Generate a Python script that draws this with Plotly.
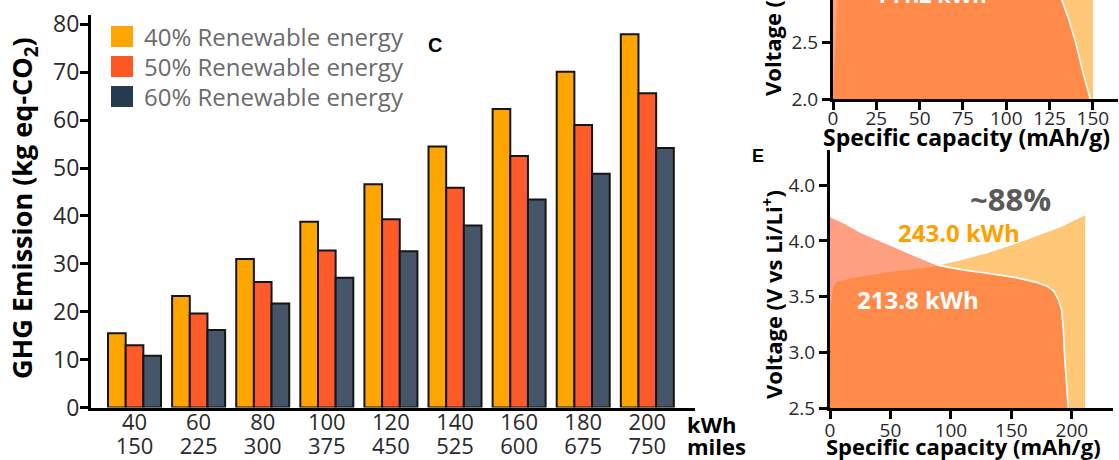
import plotly.graph_objects as go

W, H = 1119, 460

# ---------------- data ----------------
kwh = ["40", "60", "80", "100", "120", "140", "160", "180", "200"]
miles = ["150", "225", "300", "375", "450", "525", "600", "675", "750"]
series_names = ["40% Renewable energy", "50% Renewable energy", "60% Renewable energy"]
ghg_40 = [15.5, 23.3, 31.0, 38.8, 46.6, 54.5, 62.3, 70.1, 77.9]
ghg_50 = [13.0, 19.6, 26.2, 32.8, 39.3, 45.9, 52.5, 59.0, 65.6]
ghg_60 = [10.8, 16.2, 21.7, 27.1, 32.6, 38.0, 43.4, 48.8, 54.2]
bar_ticks = [0, 10, 20, 30, 40, 50, 60, 70, 80]

# panel D (top right, cropped)
d_charge_cap = [0, 0.8, 1.5, 2.5, 5, 20, 80, 140, 150]
d_charge_v = [2.0, 2.3, 2.5, 2.87, 3.2, 3.4, 3.6, 4.0, 4.2]
d_dis_cap = [0, 5, 20, 60, 100, 120, 128, 132, 136, 140, 144, 148.5]
d_dis_v = [4.2, 4.0, 3.85, 3.7, 3.55, 3.35, 3.1, 2.87, 2.7, 2.5, 2.25, 2.0]
d_xticks = [0, 25, 50, 75, 100, 125, 150]
d_yticks = [2.0, 2.5]
d_ytext = ["2.0", "2.5"]
d_label = "141.2 kWh"

# panel E
e_charge_cap = [0, 1, 2.5, 5, 20, 50, 80, 90, 110, 130, 150, 170, 190, 211]
e_charge_v = [3.0, 3.45, 3.58, 3.63, 3.67, 3.72, 3.76, 3.78, 3.83, 3.89, 3.96, 4.04, 4.12, 4.23]
e_dis_cap = [0, 12, 25, 40, 52, 72, 90, 110, 130, 154, 170, 180, 185, 189, 191.5, 193, 194, 196, 197]
e_dis_v = [4.22, 4.16, 4.08, 4.01, 3.95, 3.86, 3.78, 3.74, 3.71, 3.67, 3.63, 3.59, 3.55, 3.47, 3.38, 3.2, 2.96, 2.7, 2.5]
e_xticks = [0, 50, 100, 150, 200]
e_yticks = [2.5, 3.0, 3.5, 4.0, 4.5]
e_ytext = ["2.5", "3.0", "3.5", "4.0", "4.0"]
e_pct = "~88%"
e_charge_label = "243.0 kWh"
e_dis_label = "213.8 kWh"

# ---------------- styles ----------------
bar_colors = ["#FFA500", "#FF5A2A", "#45566A"]
legend_colors = ["#FFA500", "#FF5722", "#263B50"]
charge_fill = "#FFC878"
dis_fill = "rgba(255,97,43,0.6)"
TICKFONT = "Open Sans"
BOLD = "Open Sans"


def px(x):
    return x / W


def py(y):
    return 1 - y / H


fig = go.Figure()

for name, vals, col in zip(series_names, [ghg_40, ghg_50, ghg_60], bar_colors):
    fig.add_trace(go.Bar(
        x=kwh, y=vals, name=name, xaxis="x", yaxis="y",
        marker=dict(color=col, line=dict(color="#151515", width=2)),
        showlegend=False,
    ))

# dummy trace for the miles axis
fig.add_trace(go.Scatter(x=[], y=[], xaxis="x4", yaxis="y", showlegend=False))

# panel D
fig.add_trace(go.Scatter(x=d_charge_cap, y=d_charge_v, xaxis="x2", yaxis="y2",
                         mode="lines", line=dict(width=0, color=charge_fill),
                         fill="tozeroy", fillcolor=charge_fill, showlegend=False))
fig.add_trace(go.Scatter(x=d_dis_cap, y=d_dis_v, xaxis="x2", yaxis="y2",
                         mode="lines", line=dict(width=1.6, color="white"),
                         fill="tozeroy", fillcolor=dis_fill, showlegend=False))
# panel E
fig.add_trace(go.Scatter(x=e_charge_cap, y=e_charge_v, xaxis="x3", yaxis="y3",
                         mode="lines", line=dict(width=0, color=charge_fill),
                         fill="tozeroy", fillcolor=charge_fill, showlegend=False))
fig.add_trace(go.Scatter(x=e_dis_cap, y=e_dis_v, xaxis="x3", yaxis="y3",
                         mode="lines", line=dict(width=1.6, color="white"),
                         fill="tozeroy", fillcolor=dis_fill, showlegend=False))

axis_common = dict(showgrid=False, zeroline=False, showline=True, linecolor="black",
                   linewidth=3, ticks="outside", tickcolor="black", tickwidth=2.5,
                   ticklen=8, automargin=False)

x_rng = [-0.679, 8.744]
fig.update_layout(
    width=W, height=H, autosize=False,
    margin=dict(l=0, r=0, t=0, b=0, pad=0),
    paper_bgcolor="white", plot_bgcolor="rgba(0,0,0,0)",
    barmode="group", bargap=0.173, bargroupgap=0,
    xaxis=dict(domain=[px(91), px(695)], anchor="y", type="category",
               categoryorder="array", categoryarray=kwh, range=x_rng,
               showgrid=False, zeroline=False, showline=True, linecolor="black",
               linewidth=3, ticks="", ticklabelstandoff=-7, automargin=False,
               tickfont=dict(family=TICKFONT, size=22, color="#2a2a2a")),
    xaxis4=dict(overlaying="x", anchor="y", side="bottom", type="linear", range=x_rng,
                tickmode="array", tickvals=list(range(len(miles))), ticktext=miles,
                showgrid=False, zeroline=False, showline=False, ticks="",
                ticklabelstandoff=23, automargin=False,
                tickfont=dict(family=TICKFONT, size=22, color="#2a2a2a")),
    yaxis=dict(domain=[py(407.5), py(15)], anchor="x", range=[0, 81.94],
               tickmode="array", tickvals=bar_ticks, ticklabelstandoff=-4,
               tickfont=dict(family=TICKFONT, size=23, color="#2a2a2a"),
               **axis_common),
    xaxis2=dict(domain=[px(833), px(1118)], anchor="y2", range=[0, 164.5],
                tickmode="array", tickvals=d_xticks, ticklabelstandoff=-8,
                tickfont=dict(family=TICKFONT, size=19, color="#2a2a2a"),
                **axis_common),
    yaxis2=dict(domain=[py(99.3), 1], anchor="x2", range=[2.0, 2.8665],
                tickmode="array", tickvals=d_yticks, ticktext=d_ytext,
                tickfont=dict(family=TICKFONT, size=19, color="#2a2a2a"),
                **axis_common),
    xaxis3=dict(domain=[px(830), px(1113)], anchor="y3", range=[0, 234],
                tickmode="array", tickvals=e_xticks, ticklabelstandoff=-5,
                tickfont=dict(family=TICKFONT, size=19, color="#2a2a2a"),
                **axis_common),
    yaxis3=dict(domain=[py(408), py(150)], anchor="x3", range=[2.5, 4.816],
                tickmode="array", tickvals=e_yticks, ticktext=e_ytext,
                tickfont=dict(family=TICKFONT, size=19, color="#2a2a2a"),
                **axis_common),
)

shapes = []
ann = []
# manual legend
for i, (name, col) in enumerate(zip(series_names, legend_colors)):
    top = 26 + 30 * i
    shapes.append(dict(type="rect", xref="paper", yref="paper",
                       x0=px(111), x1=px(133), y0=py(top + 21), y1=py(top),
                       fillcolor=col, line=dict(width=0)))
    ann.append(dict(text=name, xref="paper", yref="paper", x=px(142), y=py(top + 10.5),
                    xanchor="left", yanchor="middle", showarrow=False,
                    font=dict(family=TICKFONT, size=24, color="#6b6b6b")))


def label(text, x, y, size, color="black", family=BOLD, angle=0, xa="center", ya="middle"):
    ann.append(dict(text=text, xref="paper", yref="paper", x=px(x), y=py(y),
                    xanchor=xa, yanchor=ya, showarrow=False, textangle=angle,
                    font=dict(family=family, size=size, color=color, weight="bold")))


label("GHG Emission (kg eq-CO<sub>2</sub>)", 23, 208, 27, angle=-90)
label("kWh", 685, 424, 22, xa="left")
label("miles", 685, 446, 22, xa="left")
label("C", 435, 45, 20, family="Liberation Sans")

label("Voltage (V vs Li/Li<sup>+</sup>)", 771, -8, 22, angle=-90)
label(d_label, 931, -6, 22, color="white")
label("Specific capacity (mAh/g)", 967, 137, 23)

label("E", 758, 156, 18, family="Liberation Sans")
label("Voltage (V vs Li/Li<sup>+</sup>)", 772, 295, 22, angle=-90)
label("Specific capacity (mAh/g)", 964, 446, 22)
label(e_pct, 1010, 199, 31, color="#5a5a5a")
label(e_charge_label, 959, 232, 24, color="#FFA000")
label(e_dis_label, 918, 299, 24, color="white")

fig.update_layout(shapes=shapes, annotations=ann)
fig.write_html(
    "out.html",
    config={"displayModeBar": False},
    post_script="document.body.style.margin='0px';document.body.style.overflow='hidden';",
)
